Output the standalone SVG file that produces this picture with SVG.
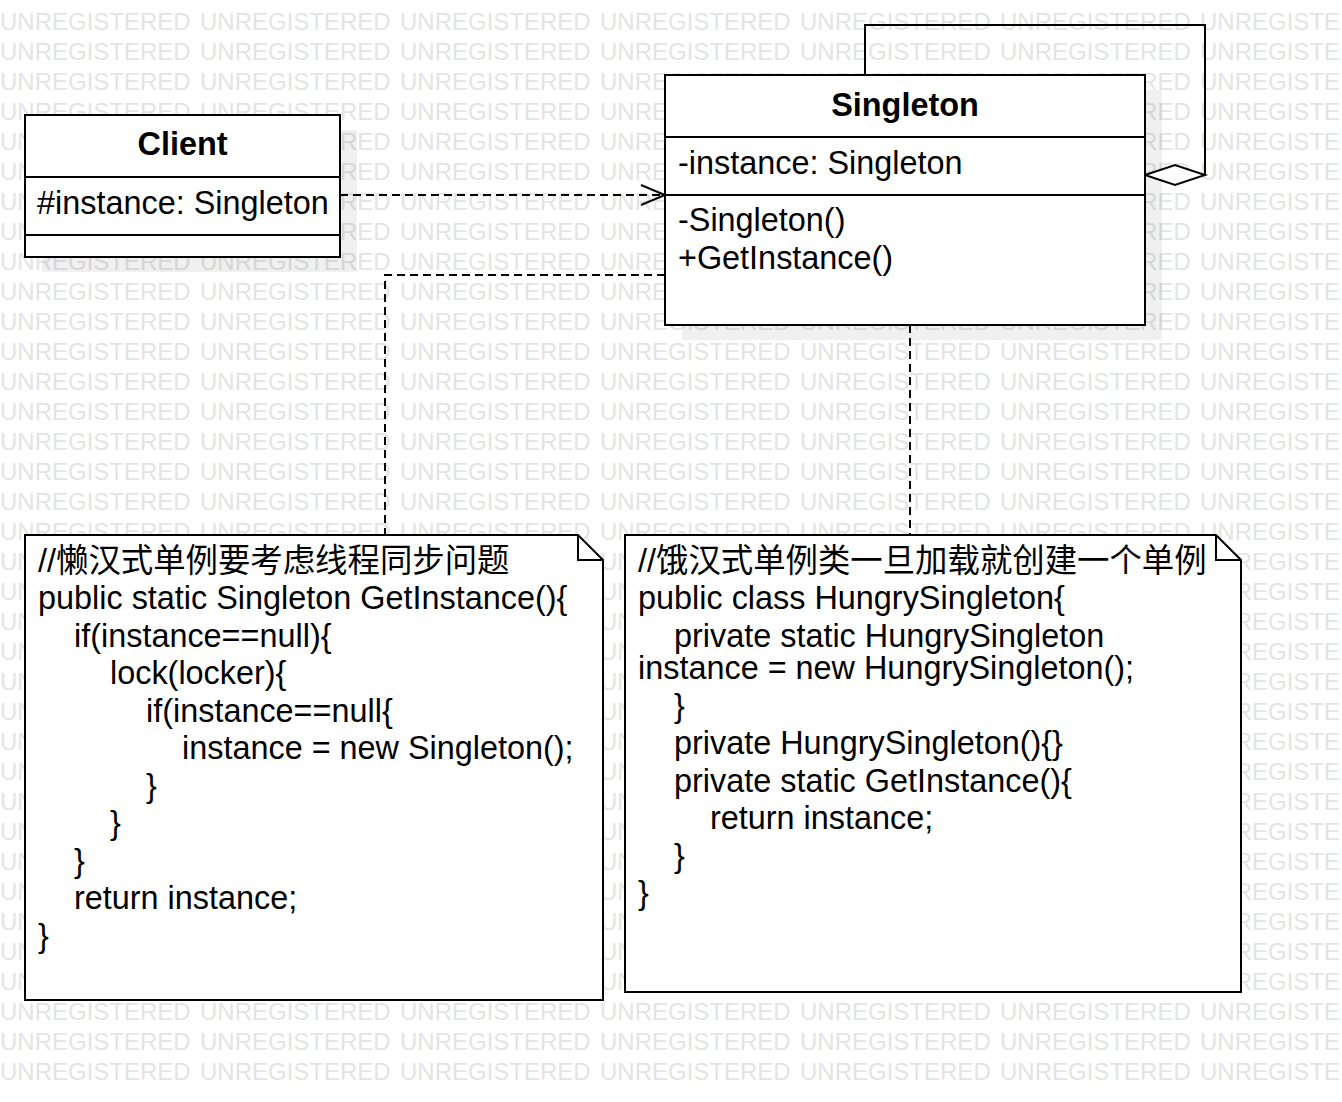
<svg xmlns="http://www.w3.org/2000/svg" width="1342" height="1102" viewBox="0 0 1342 1102">
<style>
.wm{font-family:"Liberation Sans",Arial,sans-serif;font-size:24px;fill:#e4e4e4;word-spacing:2.65px}
.t{font-family:"Liberation Sans",Arial,"Noto Sans CJK SC",sans-serif;font-size:32.4px;fill:#000}
.b{font-weight:bold;text-anchor:middle}
.box{fill:#fff;stroke:#000;stroke-width:2}
.shadow{fill:#000;fill-opacity:0.06}
.ln{fill:none;stroke:#000;stroke-width:2}
.dash{fill:none;stroke:#000;stroke-width:2;stroke-dasharray:8 5}
</style>
<rect width="1342" height="1102" fill="#fff"/>
<g id="watermark">
<text class="wm" x="0" y="30">UNREGISTERED UNREGISTERED UNREGISTERED UNREGISTERED UNREGISTERED UNREGISTERED UNREGISTE</text>
<text class="wm" x="0" y="60">UNREGISTERED UNREGISTERED UNREGISTERED UNREGISTERED UNREGISTERED UNREGISTERED UNREGISTE</text>
<text class="wm" x="0" y="90">UNREGISTERED UNREGISTERED UNREGISTERED UNREGISTERED UNREGISTERED UNREGISTERED UNREGISTE</text>
<text class="wm" x="0" y="120">UNREGISTERED UNREGISTERED UNREGISTERED UNREGISTERED UNREGISTERED UNREGISTERED UNREGISTE</text>
<text class="wm" x="0" y="150">UNREGISTERED UNREGISTERED UNREGISTERED UNREGISTERED UNREGISTERED UNREGISTERED UNREGISTE</text>
<text class="wm" x="0" y="180">UNREGISTERED UNREGISTERED UNREGISTERED UNREGISTERED UNREGISTERED UNREGISTERED UNREGISTE</text>
<text class="wm" x="0" y="210">UNREGISTERED UNREGISTERED UNREGISTERED UNREGISTERED UNREGISTERED UNREGISTERED UNREGISTE</text>
<text class="wm" x="0" y="240">UNREGISTERED UNREGISTERED UNREGISTERED UNREGISTERED UNREGISTERED UNREGISTERED UNREGISTE</text>
<text class="wm" x="0" y="270">UNREGISTERED UNREGISTERED UNREGISTERED UNREGISTERED UNREGISTERED UNREGISTERED UNREGISTE</text>
<text class="wm" x="0" y="300">UNREGISTERED UNREGISTERED UNREGISTERED UNREGISTERED UNREGISTERED UNREGISTERED UNREGISTE</text>
<text class="wm" x="0" y="330">UNREGISTERED UNREGISTERED UNREGISTERED UNREGISTERED UNREGISTERED UNREGISTERED UNREGISTE</text>
<text class="wm" x="0" y="360">UNREGISTERED UNREGISTERED UNREGISTERED UNREGISTERED UNREGISTERED UNREGISTERED UNREGISTE</text>
<text class="wm" x="0" y="390">UNREGISTERED UNREGISTERED UNREGISTERED UNREGISTERED UNREGISTERED UNREGISTERED UNREGISTE</text>
<text class="wm" x="0" y="420">UNREGISTERED UNREGISTERED UNREGISTERED UNREGISTERED UNREGISTERED UNREGISTERED UNREGISTE</text>
<text class="wm" x="0" y="450">UNREGISTERED UNREGISTERED UNREGISTERED UNREGISTERED UNREGISTERED UNREGISTERED UNREGISTE</text>
<text class="wm" x="0" y="480">UNREGISTERED UNREGISTERED UNREGISTERED UNREGISTERED UNREGISTERED UNREGISTERED UNREGISTE</text>
<text class="wm" x="0" y="510">UNREGISTERED UNREGISTERED UNREGISTERED UNREGISTERED UNREGISTERED UNREGISTERED UNREGISTE</text>
<text class="wm" x="0" y="540">UNREGISTERED UNREGISTERED UNREGISTERED UNREGISTERED UNREGISTERED UNREGISTERED UNREGISTE</text>
<text class="wm" x="0" y="570">UNREGISTERED UNREGISTERED UNREGISTERED UNREGISTERED UNREGISTERED UNREGISTERED UNREGISTE</text>
<text class="wm" x="0" y="600">UNREGISTERED UNREGISTERED UNREGISTERED UNREGISTERED UNREGISTERED UNREGISTERED UNREGISTE</text>
<text class="wm" x="0" y="630">UNREGISTERED UNREGISTERED UNREGISTERED UNREGISTERED UNREGISTERED UNREGISTERED UNREGISTE</text>
<text class="wm" x="0" y="660">UNREGISTERED UNREGISTERED UNREGISTERED UNREGISTERED UNREGISTERED UNREGISTERED UNREGISTE</text>
<text class="wm" x="0" y="690">UNREGISTERED UNREGISTERED UNREGISTERED UNREGISTERED UNREGISTERED UNREGISTERED UNREGISTE</text>
<text class="wm" x="0" y="720">UNREGISTERED UNREGISTERED UNREGISTERED UNREGISTERED UNREGISTERED UNREGISTERED UNREGISTE</text>
<text class="wm" x="0" y="750">UNREGISTERED UNREGISTERED UNREGISTERED UNREGISTERED UNREGISTERED UNREGISTERED UNREGISTE</text>
<text class="wm" x="0" y="780">UNREGISTERED UNREGISTERED UNREGISTERED UNREGISTERED UNREGISTERED UNREGISTERED UNREGISTE</text>
<text class="wm" x="0" y="810">UNREGISTERED UNREGISTERED UNREGISTERED UNREGISTERED UNREGISTERED UNREGISTERED UNREGISTE</text>
<text class="wm" x="0" y="840">UNREGISTERED UNREGISTERED UNREGISTERED UNREGISTERED UNREGISTERED UNREGISTERED UNREGISTE</text>
<text class="wm" x="0" y="870">UNREGISTERED UNREGISTERED UNREGISTERED UNREGISTERED UNREGISTERED UNREGISTERED UNREGISTE</text>
<text class="wm" x="0" y="900">UNREGISTERED UNREGISTERED UNREGISTERED UNREGISTERED UNREGISTERED UNREGISTERED UNREGISTE</text>
<text class="wm" x="0" y="930">UNREGISTERED UNREGISTERED UNREGISTERED UNREGISTERED UNREGISTERED UNREGISTERED UNREGISTE</text>
<text class="wm" x="0" y="960">UNREGISTERED UNREGISTERED UNREGISTERED UNREGISTERED UNREGISTERED UNREGISTERED UNREGISTE</text>
<text class="wm" x="0" y="990">UNREGISTERED UNREGISTERED UNREGISTERED UNREGISTERED UNREGISTERED UNREGISTERED UNREGISTE</text>
<text class="wm" x="0" y="1020">UNREGISTERED UNREGISTERED UNREGISTERED UNREGISTERED UNREGISTERED UNREGISTERED UNREGISTE</text>
<text class="wm" x="0" y="1050">UNREGISTERED UNREGISTERED UNREGISTERED UNREGISTERED UNREGISTERED UNREGISTERED UNREGISTE</text>
<text class="wm" x="0" y="1080">UNREGISTERED UNREGISTERED UNREGISTERED UNREGISTERED UNREGISTERED UNREGISTERED UNREGISTE</text>
</g>
<g id="shadows">
<rect class="shadow" x="42" y="130" width="315" height="142"/>
<rect class="shadow" x="682" y="90" width="480" height="250"/>
</g>
<g id="connectors">
<path class="dash" d="M340,195 H663"/>
<polyline class="ln" points="641,185 665,195 641,205"/>
<path class="dash" d="M665,275 H385 V535"/>
<path class="dash" d="M910,325 V535"/>
<path class="ln" d="M865,75 V25 H1205 V175"/>
<polygon class="box" points="1145,175 1175,165 1205,175 1175,185"/>
</g>
<g id="client">
<rect class="box" x="25" y="115" width="315" height="142"/>
<path class="ln" d="M25,177 H340 M25,235 H340"/>
<text class="t b" x="182.5" y="155">Client</text>
<text class="t" x="37" y="214">#instance: Singleton</text>
</g>
<g id="singleton">
<rect class="box" x="665" y="75" width="480" height="250"/>
<path class="ln" d="M665,137 H1145 M665,195 H1145"/>
<text class="t b" x="905" y="116">Singleton</text>
<text class="t" x="678" y="174">-instance: Singleton</text>
<text class="t" x="678" y="231">-Singleton()</text>
<text class="t" x="678" y="269">+GetInstance()</text>
</g>
<g id="note-lazy">
<path class="box" d="M25,535 H578 L603,560 V1000 H25 Z"/>
<path class="ln" d="M578,535 V560 H603"/>
<text class="t" x="38" y="572">//懒汉式单例要考虑线程同步问题</text>
<text class="t" x="38" y="609">public static Singleton GetInstance(){</text>
<text class="t" x="74" y="647">if(instance==null){</text>
<text class="t" x="110" y="684">lock(locker){</text>
<text class="t" x="146" y="722">if(instance==null{</text>
<text class="t" x="182" y="759">instance = new Singleton();</text>
<text class="t" x="146" y="797">}</text>
<text class="t" x="110" y="834">}</text>
<text class="t" x="74" y="872">}</text>
<text class="t" x="74" y="909">return instance;</text>
<text class="t" x="38" y="947">}</text>
</g>
<g id="note-hungry">
<path class="box" d="M625,535 H1216 L1241,560 V992 H625 Z"/>
<path class="ln" d="M1216,535 V560 H1241"/>
<text class="t" x="638" y="572">//饿汉式单例类一旦加载就创建一个单例</text>
<text class="t" x="638" y="609">public class HungrySingleton{</text>
<text class="t" x="674" y="647">private static HungrySingleton</text>
<text class="t" x="638" y="679">instance = new HungrySingleton();</text>
<text class="t" x="674" y="717">}</text>
<text class="t" x="674" y="754">private HungrySingleton(){}</text>
<text class="t" x="674" y="792">private static GetInstance(){</text>
<text class="t" x="710" y="829">return instance;</text>
<text class="t" x="674" y="867">}</text>
<text class="t" x="638" y="904">}</text>
</g>
</svg>
